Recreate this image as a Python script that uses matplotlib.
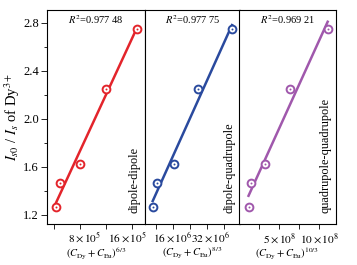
import numpy as np
import matplotlib
matplotlib.use("Agg")
import matplotlib.pyplot as plt
import matplotlib.transforms as mtransforms
from matplotlib.ticker import FixedLocator, MultipleLocator

plt.rcParams['font.family'] = ['Liberation Serif', 'DejaVu Serif']
plt.rcParams['mathtext.fontset'] = 'stix'
plt.rcParams['font.size'] = 8

# Data
y_ratio = [1.264, 1.469, 1.627, 2.246, 2.748]
x_dd = [0.52e5, 1.85e5, 8.1e5, 15.9e5, 25.4e5]
x_dq = [6.6e6, 8.47e6, 16.53e6, 27.87e6, 43.59e6]
x_qq = [1.13e8, 1.42e8, 3.21e8, 6.34e8, 11.05e8]
r2_labels = ['$R^2$=0.977 48', '$R^2$=0.977 75', '$R^2$=0.969 21']
mech_labels = ['dipole-dipole', 'dipole-quadrupole', 'quadrupole-quadrupole']
xlabels = [r'$(C_{\mathrm{Dy}}+C_{\mathrm{Eu}})^{6/3}$',
           r'$(C_{\mathrm{Dy}}+C_{\mathrm{Eu}})^{8/3}$',
           r'$(C_{\mathrm{Dy}}+C_{\mathrm{Eu}})^{10/3}$']
xticks = [[0, 8e5, 16e5, 24e5], [8e6, 16e6, 24e6, 32e6, 40e6], [2.5e8, 5e8, 7.5e8, 10e8]]
xticklabels = [['', r'$8\times10^5$', r'$16\times10^5$', ''],
               ['', r'$16\times10^6$', '', r'$32\times10^6$', ''],
               ['', r'$5\times10^8$', '', r'$10\times10^8$']]
# horizontal pixel shifts of the tick labels as seen in the reference
label_shift_px = [[0, 5, 21, 0], [0, 0, 0, 3, 0], [0, 0, 0, 0]]
xlims = [(-2.06e5, 28.0e5), (3.0e6, 47.1e6), (0.0, 12.03e8)]
colors = ['#e3242b', '#2a4a9e', '#a058ac']

W, H = 357, 265
fig = plt.figure(figsize=(W / 100, H / 100), dpi=100)
bottom = (H - 224) / H
height = 214 / H
edges = [47.3, 145.0, 239.5, 335.5]

xs_all = [x_dd, x_dq, x_qq]
for i in range(3):
    ax = fig.add_axes([edges[i] / W, bottom, (edges[i + 1] - edges[i]) / W, height])
    x = np.array(xs_all[i])
    y = np.array(y_ratio)
    b, a = np.polyfit(x, y, 1)
    xl = np.array([x.min(), x.max()])
    ax.plot(xl, a + b * xl, color=colors[i], lw=1.8, zorder=2)
    ax.plot(x, y, 'o', ms=5.6, mfc='white', mec=colors[i], mew=1.4, zorder=3)
    ax.plot(x, y, 'o', ms=1.4, mfc=colors[i], mec=colors[i], mew=0, zorder=4)
    ax.set_xlim(*xlims[i])
    ax.set_ylim(1.125, 2.906)
    ax.xaxis.set_major_locator(FixedLocator(xticks[i]))
    ax.set_xticklabels(xticklabels[i])
    ax.tick_params(axis='x', direction='out', length=3.5, width=0.6, pad=1.5, labelsize=8.2)
    for lab, sh in zip(ax.get_xticklabels(), label_shift_px[i]):
        if sh:
            lab.set_transform(lab.get_transform() +
                              mtransforms.ScaledTranslation(sh / 100, 0, fig.dpi_scale_trans))
    ax.set_xlabel(xlabels[i], fontsize=7.6, labelpad=0)
    if i == 0:
        ax.yaxis.set_minor_locator(MultipleLocator(0.2))
        ax.set_yticks([1.2, 1.6, 2.0, 2.4, 2.8])
        ax.set_yticklabels(['1.2', '1.6', '2.0', '2.4', '2.8'])
        ax.tick_params(axis='y', which='major', direction='out', length=4, width=0.6, labelsize=9, pad=2)
        ax.tick_params(axis='y', which='minor', direction='out', length=2, width=0.6)
        ax.set_ylabel(r'$I_{s0}$ / $I_s$ of Dy$^{3+}$', fontsize=10.5, labelpad=1)
    else:
        ax.tick_params(axis='y', which='both', left=False, labelleft=False)
    for s in ax.spines.values():
        s.set_linewidth(0.8)
    ax.text(0.5, 0.955, r2_labels[i], transform=ax.transAxes, ha='center', va='center', fontsize=7.5)
    ax.text(0.895, 0.05, mech_labels[i], transform=ax.transAxes, ha='center', va='bottom',
            rotation=90, fontsize=8.8)

fig.savefig('out.png', dpi=100)
